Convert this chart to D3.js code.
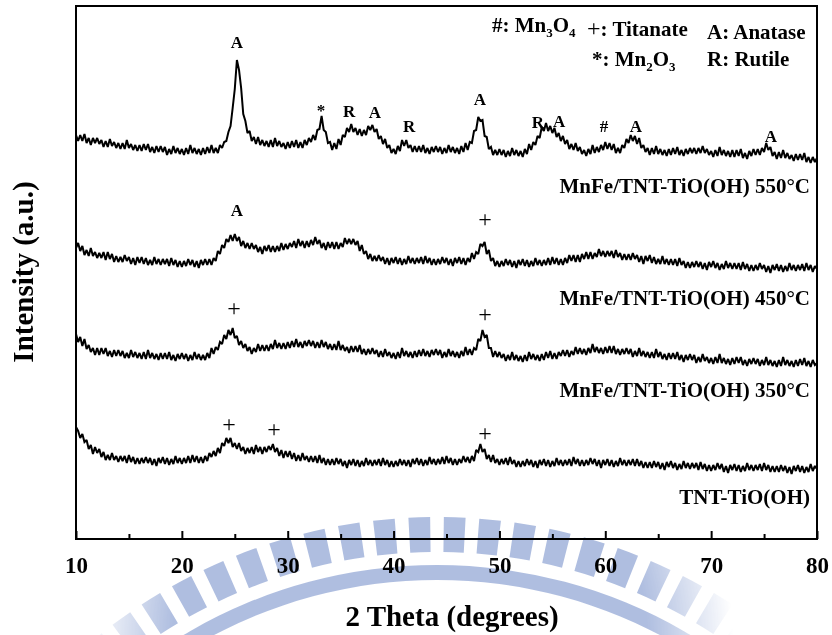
<!DOCTYPE html>
<html>
<head>
<meta charset="utf-8">
<script src="https://cdn.jsdelivr.net/npm/d3@7"></script>
<style>
  html, body { margin: 0; padding: 0; background: #fff; }
  svg { display: block; font-family: "Liberation Serif", "Times New Roman", serif; transform: translateZ(0); }
</style>
</head>
<body>
<svg id="chart" width="832" height="635"></svg>
<script>
// ---- XRD scan settings (2θ, degrees) ----
const thetaStart = 10;
const thetaStep = 0.2;
const xTicks = [10, 20, 30, 40, 50, 60, 70, 80];
const xMinorTicks = [15, 25, 35, 45, 55, 65, 75];

// ---- sample names ----
const seriesNames = [
  "MnFe/TNT-TiO(OH) 550°C",
  "MnFe/TNT-TiO(OH) 450°C",
  "MnFe/TNT-TiO(OH) 350°C",
  "TNT-TiO(OH)"
];

// ---- intensities (a.u., stacked), one value per 0.2° from 10° to 80° ----
const int550 = [
  404,398,404,398,405,396,401,394,401,396,
  401,395,399,392,398,392,400,393,397,391,
  396,390,396,390,399,391,395,389,394,388,
  394,388,395,389,395,387,392,386,393,387,
  393,387,392,384,390,385,393,386,391,385,
  390,384,391,385,394,386,391,385,390,384,
  391,385,392,386,394,386,391,386,394,391,
  397,398,407,413,431,450,479,469,451,425,
  418,406,408,398,402,395,402,394,399,393,
  398,392,399,392,401,393,398,392,396,390,
  397,391,398,392,399,391,397,391,399,394,
  401,397,404,399,409,410,423,409,407,396,
  397,389,396,390,400,394,404,402,411,407,
  415,407,411,404,410,403,409,404,413,409,
  414,407,410,400,403,395,400,391,394,386,
  390,385,393,388,399,393,399,391,394,387,
  393,387,393,387,394,386,391,385,392,387,
  393,387,392,385,391,386,394,387,392,386,
  391,385,393,387,396,389,397,396,408,409,
  422,418,419,403,402,390,392,384,389,384,
  390,384,389,382,388,383,391,384,389,383,
  388,382,390,385,395,389,397,394,403,401,
  412,408,416,408,413,406,411,402,406,398,
  403,395,399,390,395,389,396,388,392,385,
  389,383,390,385,394,386,392,387,394,389,
  397,390,396,389,395,386,391,386,394,391,
  400,396,404,398,403,395,401,391,394,387,
  391,384,391,385,393,385,390,384,389,383,
  390,384,391,385,392,384,389,383,390,385,
  391,386,391,385,391,386,393,386,390,384,
  388,382,389,383,392,384,389,383,388,382,
  389,382,389,383,390,381,386,380,388,383,
  390,384,390,384,391,387,396,389,392,383,
  387,380,387,381,389,381,386,380,384,378,
  385,379,385,379,386,377,382,376,382,377,
  381
];
const int450 = [
  291,296,288,293,284,289,283,291,283,287,
  281,286,281,287,279,287,280,285,277,283,
  277,282,277,284,278,282,275,281,274,282,
  276,282,275,281,274,279,274,282,275,280,
  274,280,275,280,273,281,274,279,272,278,
  272,278,273,280,274,279,272,278,271,279,
  274,280,274,280,274,281,278,288,285,294,
  291,300,297,304,298,305,298,302,293,298,
  291,296,290,296,290,294,287,292,285,293,
  288,294,287,293,287,293,288,296,289,295,
  290,296,292,298,291,300,293,298,291,298,
  292,299,294,302,295,299,291,296,289,297,
  291,297,290,297,290,296,292,301,295,300,
  295,300,294,298,288,294,285,288,280,285,
  278,283,278,284,278,282,275,281,274,281,
  276,282,275,281,274,280,275,283,276,281,
  275,281,276,282,275,283,276,281,274,280,
  274,280,275,282,276,281,274,280,273,281,
  276,282,275,281,274,281,277,286,280,287,
  285,295,293,297,285,289,278,281,273,278,
  272,278,273,280,274,279,272,278,271,279,
  274,280,273,279,272,278,273,281,274,279,
  273,279,274,281,274,282,275,281,274,280,
  274,281,276,284,278,284,277,284,277,285,
  280,287,280,287,280,286,282,290,283,288,
  282,288,283,288,281,289,282,286,279,285,
  279,285,279,286,280,284,277,283,275,283,
  278,284,276,282,275,280,275,283,275,280,
  274,280,274,280,273,281,274,278,271,277,
  271,277,272,278,272,277,270,276,269,277,
  272,278,271,276,269,275,270,278,271,276,
  270,276,270,276,269,277,270,275,268,274,
  268,274,269,276,270,274,267,273,266,274,
  269,275,268,274,267,273,268,276,269,274,
  268,274,269,275,268,276,269,274,267,273,
  270
];
const int350 = [
  205,197,202,193,200,190,194,187,191,184,
  191,184,191,185,191,183,188,182,189,183,
  189,183,188,181,186,181,189,182,187,181,
  186,180,187,180,189,181,186,180,185,179,
  186,180,186,180,187,179,184,178,185,180,
  186,180,185,178,184,179,187,180,185,179,
  184,179,186,181,191,185,192,189,197,195,
  204,200,209,204,211,201,203,194,198,191,
  195,188,192,185,191,187,195,188,194,188,
  194,188,195,190,199,191,196,190,196,190,
  197,191,198,192,200,192,197,191,198,193,
  199,193,198,191,197,191,199,192,197,190,
  195,189,195,189,198,189,194,188,192,186,
  193,187,193,187,194,185,190,184,190,185,
  191,185,189,182,188,182,190,183,187,181,
  186,180,187,181,191,183,188,182,187,181,
  188,182,189,183,190,183,188,182,189,184,
  190,184,189,181,187,182,190,183,188,182,
  187,181,188,183,192,184,190,184,191,189,
  200,198,209,202,204,191,191,182,188,182,
  187,181,185,178,184,179,187,179,184,178,
  183,177,184,178,187,180,185,179,184,178,
  185,179,187,181,188,180,186,180,187,183,
  189,183,189,182,188,184,192,185,191,185,
  190,184,191,186,195,187,192,186,191,185,
  192,186,193,186,193,185,190,184,190,185,
  191,185,190,182,188,183,191,183,188,182,
  187,181,187,181,190,182,187,180,185,179,
  186,180,186,180,187,179,184,177,184,179,
  185,179,184,176,182,177,185,178,182,176,
  181,175,182,176,185,176,181,175,180,174,
  181,175,182,176,182,174,179,173,180,175,
  181,175,180,173,179,174,182,174,179,173,
  178,172,179,173,182,174,179,173,178,172,
  179,173,180,174,181,173,178,172,179,174,
  176
];
const intTNT = [
  112,108,101,105,97,99,90,94,85,92,
  86,90,82,87,79,84,79,86,79,83,
  77,83,78,83,76,84,77,82,75,81,
  75,81,76,82,76,81,74,80,73,81,
  76,82,75,81,74,80,75,83,76,81,
  75,81,76,83,76,84,77,83,76,82,
  76,83,78,86,82,88,83,91,86,96,
  93,101,96,101,92,96,90,96,88,92,
  85,91,86,92,85,94,87,92,85,92,
  87,93,89,95,87,91,83,89,81,88,
  82,88,80,86,78,84,78,86,79,83,
  77,83,77,83,76,84,76,81,74,80,
  74,80,74,81,75,80,73,78,71,79,
  74,80,73,79,72,78,73,81,74,79,
  73,79,74,80,73,81,74,79,72,78,
  72,78,73,80,74,79,73,79,72,80,
  75,81,74,80,73,79,74,82,75,80,
  74,80,75,82,75,83,76,81,74,80,
  74,80,76,83,77,82,76,83,78,89,
  87,95,87,90,80,84,77,84,76,80,
  74,80,75,81,74,82,75,79,72,78,
  72,78,73,80,74,79,72,78,71,79,
  74,80,73,79,72,78,73,81,74,79,
  73,79,74,80,73,82,75,80,73,79,
  73,79,74,81,75,80,73,79,71,79,
  74,80,73,79,72,78,73,81,74,79,
  73,79,74,80,73,80,73,78,71,77,
  71,77,71,78,72,77,70,76,69,77,
  72,78,71,76,69,75,70,78,71,76,
  70,76,71,76,69,77,70,75,68,74,
  68,74,69,76,70,75,67,73,66,74,
  69,75,68,74,67,73,68,76,69,74,
  68,74,69,75,68,76,69,74,67,73,
  67,73,67,74,68,73,66,72,65,73,
  68,74,67,73,66,72,67,75,68,73,
  70
];

// ---- phase assignments: peak position (2θ) and label level (a.u.) ----
const marks550 = [
  { label: "A", theta: 25.2,  level: 491 },
  { label: "*", theta: 33.14, level: 423 },
  { label: "R", theta: 35.8,  level: 422 },
  { label: "A", theta: 38.24, level: 421 },
  { label: "R", theta: 41.46, level: 407 },
  { label: "A", theta: 48.16, level: 434 },
  { label: "R", theta: 53.64, level: 411 },
  { label: "A", theta: 55.63, level: 412 },
  { label: "#", theta: 59.88, level: 407 },
  { label: "A", theta: 62.9,  level: 407 },
  { label: "A", theta: 75.65, level: 397 }
];
const marks450 = [
  { label: "A", theta: 25.2,  level: 323 },
  { label: "+", theta: 48.64, level: 312 }
];
const marks350 = [
  { label: "+", theta: 24.93, level: 223 },
  { label: "+", theta: 48.64, level: 217 }
];
const marksTNT = [
  { label: "+", theta: 24.45, level: 107 },
  { label: "+", theta: 28.7,  level: 102 },
  { label: "+", theta: 48.64, level: 98 }
];

// ---- phase key ----
const keyMn3O4   = [["#: Mn"], ["3", "sub"], ["O"], ["4", "sub"]];
const keyTitan   = [["+", "plain"], [": Titanate"]];
const keyAnatase = [["A: Anatase"]];
const keyMn2O3   = [["*: Mn"], ["2", "sub"], ["O"], ["3", "sub"]];
const keyRutile  = [["R: Rutile"]];

// ================= drawing =================
const W = 832, H = 635;
const plot = { left: 76, right: 817, top: 6, bottom: 539 };
const svg = d3.select("#chart");

const x = d3.scaleLinear().domain([10, 80]).range([plot.left, plot.right]);
const y = d3.scaleLinear().domain([0, 533]).range([plot.bottom, plot.top]);

// faint emblem watermark behind the axis area
const defs = svg.append("defs");
const fade = defs.append("radialGradient").attr("id", "wmFade")
  .attr("gradientUnits", "userSpaceOnUse")
  .attr("cx", 410).attr("cy", 640).attr("r", 330);
fade.append("stop").attr("offset", 0.72).attr("stop-color", "#fff");
fade.append("stop").attr("offset", 0.98).attr("stop-color", "#000");
const mask = defs.append("mask").attr("id", "wmMask")
  .attr("maskUnits", "userSpaceOnUse")
  .attr("x", 0).attr("y", 0).attr("width", W).attr("height", H);
mask.append("rect").attr("width", W).attr("height", H).attr("fill", "url(#wmFade)");

const wm = svg.append("g").attr("mask", "url(#wmMask)")
  .append("g").attr("transform", "translate(437,1059)")
  .attr("fill", "#a6b7dd").attr("fill-opacity", 0.9);
const rad = d => d * Math.PI / 180;
const tooth = d3.arc().innerRadius(507).outerRadius(542);
d3.range(-14, 14).forEach(k => {
  const c = (k + 0.5) * 3.75;
  wm.append("path").attr("d", tooth({ startAngle: rad(c - 1.15), endAngle: rad(c + 1.15) }));
});
wm.append("path").attr("d",
  d3.arc().innerRadius(479).outerRadius(494)({ startAngle: rad(-60), endAngle: rad(60) }));

// x axis: inward ticks, bold labels
const axisG = svg.append("g").attr("transform", `translate(0,${plot.bottom})`)
  .call(d3.axisBottom(x).tickValues(xTicks).tickFormat(d3.format("d"))
    .tickSizeInner(-8).tickSizeOuter(0).tickPadding(18));
axisG.attr("font-family", null).attr("font-size", 23).attr("font-weight", "bold");
axisG.select(".domain").remove();
axisG.selectAll(".tick line").attr("stroke", "#000").attr("stroke-width", 2);
axisG.selectAll(".tick text").attr("fill", "#000");

const minorG = svg.append("g").attr("transform", `translate(0,${plot.bottom})`)
  .call(d3.axisBottom(x).tickValues(xMinorTicks).tickFormat("")
    .tickSizeInner(-5).tickSizeOuter(0));
minorG.select(".domain").remove();
minorG.selectAll(".tick line").attr("stroke", "#000").attr("stroke-width", 2);

// plot frame
svg.append("rect")
  .attr("x", plot.left).attr("y", plot.top)
  .attr("width", plot.right - plot.left).attr("height", plot.bottom - plot.top)
  .attr("fill", "none").attr("stroke", "#000").attr("stroke-width", 2);

// diffraction patterns
const line = d3.line()
  .x((d, i) => x(thetaStart + i * thetaStep))
  .y(d => y(d));
const patterns = [int550, int450, int350, intTNT];
svg.append("g").selectAll("path").data(patterns).join("path")
  .attr("d", line)
  .attr("fill", "none").attr("stroke", "#000")
  .attr("stroke-width", 2).attr("stroke-linejoin", "miter").attr("stroke-miterlimit", 2);

// phase labels above peaks
const allMarks = [].concat(marks550, marks450, marks350, marksTNT);
svg.append("g").attr("text-anchor", "middle").attr("fill", "#000")
  .selectAll("text").data(allMarks).join("text")
  .attr("x", d => x(d.theta)).attr("y", d => y(d.level))
  .attr("font-size", d => d.label === "+" ? 24 : 17)
  .attr("font-weight", d => d.label === "+" ? "normal" : "bold")
  .text(d => d.label);

// sample names, right aligned under each pattern
const nameLevels = [346, 234, 142, 35];
svg.append("g").attr("text-anchor", "end").attr("font-size", 21).attr("font-weight", "bold")
  .selectAll("text").data(seriesNames).join("text")
  .attr("x", 810).attr("y", (d, i) => y(nameLevels[i]))
  .text(d => d);

// phase key with subscripts
const keyG = svg.append("g").attr("font-size", 21).attr("font-weight", "bold");
function keyEntry(parts, px, py) {
  const t = keyG.append("text").attr("x", px).attr("y", py);
  let shifted = false;
  parts.forEach(([txt, kind]) => {
    const s = t.append("tspan").text(txt);
    if (kind === "sub") {
      s.attr("font-size", 13).attr("dy", shifted ? 0 : 5);
      shifted = true;
    } else {
      if (shifted) { s.attr("dy", -5); shifted = false; }
      if (kind === "plain") s.attr("font-weight", "normal").attr("font-size", 24);
    }
  });
}
keyEntry(keyMn3O4, 492, 32);
keyEntry(keyTitan, 587, 36);
keyEntry(keyAnatase, 707, 39);
keyEntry(keyMn2O3, 592, 66);
keyEntry(keyRutile, 707, 66);

// axis titles
svg.append("text")
  .attr("x", 452).attr("y", 626)
  .attr("text-anchor", "middle").attr("font-size", 29).attr("font-weight", "bold")
  .text("2 Theta (degrees)");
svg.append("text")
  .attr("transform", "translate(33,272) rotate(-90)")
  .attr("text-anchor", "middle").attr("font-size", 29).attr("font-weight", "bold")
  .text("Intensity (a.u.)");
</script>
</body>
</html>
